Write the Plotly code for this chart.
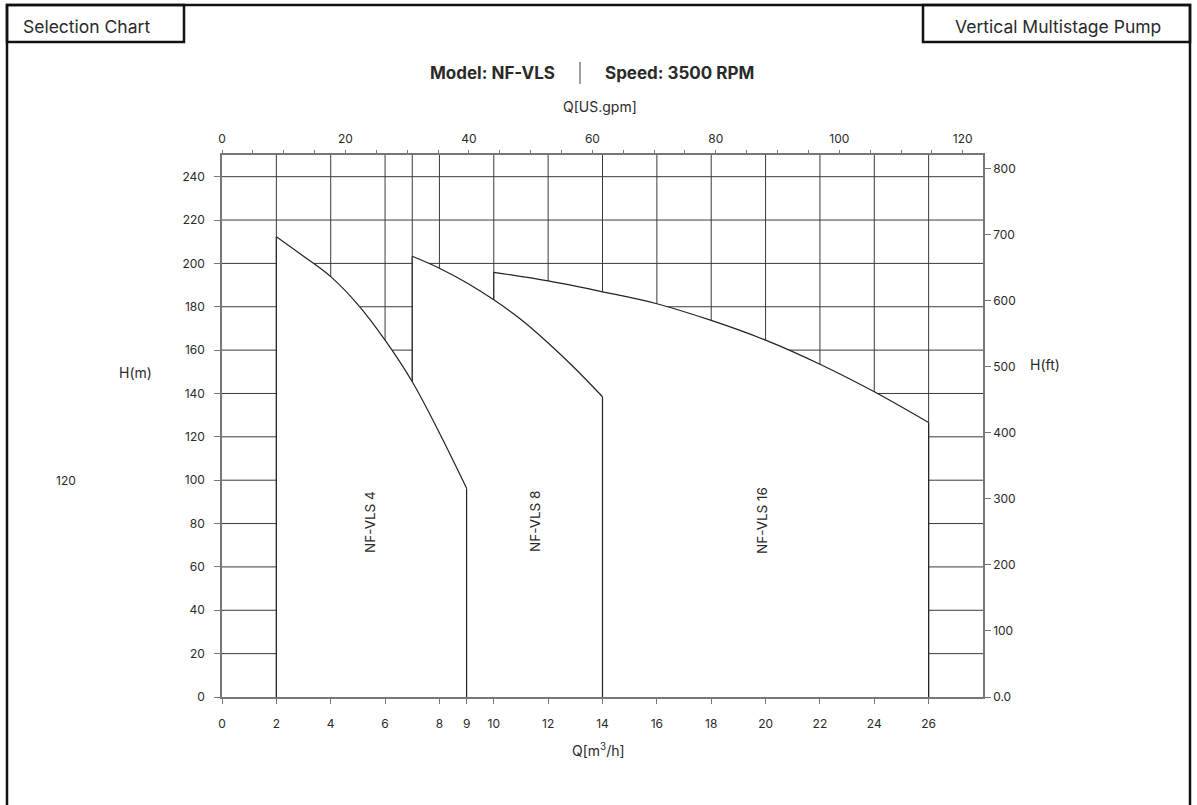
import plotly.graph_objects as go

# ---------------- data ----------------
Q_TICKS = [0, 2, 4, 6, 8, 9, 10, 12, 14, 16, 18, 20, 22, 24, 26]
H_TICKS = [0, 20, 40, 60, 80, 100, 120, 140, 160, 180, 200, 220, 240]
FT_TICKS = [0, 100, 200, 300, 400, 500, 600, 700, 800]
FT_LABELS = ["0.0", "100", "200", "300", "400", "500", "600", "700", "800"]
GPM_TICKS = [0, 20, 40, 60, 80, 100, 120]
GRID_Q = [2, 4, 6, 7, 8, 10, 12, 14, 16, 18, 20, 22, 24, 26]
GRID_H = [20, 40, 60, 80, 100, 120, 140, 160, 180, 200, 220, 240]

VLS4_Q = [2, 3, 4, 5, 6, 7, 8, 9]
VLS4_H = [212.3, 203.3, 193.9, 181.0, 164.6, 145.4, 121.8, 96.3]
VLS8_Q = [7, 8, 9, 10, 11, 12, 13, 14]
VLS8_H = [203.3, 197.8, 191.1, 183.2, 174.1, 163.3, 151.4, 138.5]
VLS16_Q = [10, 12, 14, 16, 18, 20, 22, 24, 26]
VLS16_H = [195.9, 191.9, 186.9, 181.4, 173.7, 164.6, 153.5, 140.8, 126.6]
MODELS = ["NF-VLS 16", "NF-VLS 8", "NF-VLS 4"]

Q_MAX = 28
H_MAX = 250
M3H_TO_GPM = 4.402868
M_TO_FT = 1 / 0.3048

FONT = "Inter"
TXT = "#2a2a2a"
AX = "#777777"
GRIDC = "#3a3a3a"
CURVE = "#222222"

# plot area in pixels
L, R, T, B = 222, 983, 155, 697
W, H = 1197, 805


def px(xpix):
    return (xpix - L) / (R - L)


def py(ypix):
    return (B - ypix) / (B - T)


fig = go.Figure()

# invisible trace so the secondary axes exist
fig.add_trace(go.Scatter(x=[0], y=[0], xaxis="x2", yaxis="y2", mode="markers",
                         marker=dict(opacity=0), showlegend=False, hoverinfo="skip"))

# grid
gx, gy = [], []
for q in GRID_Q:
    gx += [q, q, None]
    gy += [0, H_MAX, None]
for h in GRID_H:
    gx += [0, Q_MAX, None]
    gy += [h, h, None]
fig.add_trace(go.Scatter(x=gx, y=gy, mode="lines", line=dict(color=GRIDC, width=1),
                         showlegend=False, hoverinfo="skip"))

# pump regions (drawn 16, 8, 4 so that later ones cover earlier)
for name, qs, hs in [(MODELS[0], VLS16_Q, VLS16_H),
                     (MODELS[1], VLS8_Q, VLS8_H),
                     (MODELS[2], VLS4_Q, VLS4_H)]:
    fig.add_trace(go.Scatter(x=qs, y=hs, mode="lines", fill="tozeroy", fillcolor="white",
                             line=dict(color=CURVE, width=1.2, shape="spline", smoothing=1.0),
                             showlegend=False, name=name, hoverinfo="skip"))
    fig.add_trace(go.Scatter(x=[qs[0], qs[0], None, qs[-1], qs[-1]],
                             y=[0, hs[0], None, hs[-1], 0], mode="lines",
                             line=dict(color=CURVE, width=1.2),
                             showlegend=False, hoverinfo="skip"))

common = dict(showgrid=False, zeroline=False, showline=True, linecolor=AX, linewidth=1.5,
              ticks="outside", tickcolor=AX, tickwidth=1,
              tickfont=dict(family=FONT, size=12, color=TXT))

fig.update_layout(
    width=W, height=H,
    margin=dict(l=L, r=W - R, t=T, b=H - B, pad=0),
    paper_bgcolor="white", plot_bgcolor="white",
    font=dict(family=FONT, color=TXT),
    showlegend=False,
    xaxis=dict(range=[0, Q_MAX], tickmode="array", tickvals=Q_TICKS, ticklen=5,
               ticklabelstandoff=10, **common),
    yaxis=dict(range=[0, H_MAX], tickmode="array", tickvals=H_TICKS, ticklen=6,
               ticklabelstandoff=7, **common),
    xaxis2=dict(range=[0, Q_MAX * M3H_TO_GPM], overlaying="x", side="top", anchor="y",
                tickmode="array", tickvals=GPM_TICKS, ticklen=3, ticklabelstandoff=2,
                minor=dict(tickmode="linear", tick0=0, dtick=5, ticks="outside", ticklen=3,
                           tickcolor=AX, showgrid=False),
                **common),
    yaxis2=dict(range=[0, H_MAX * M_TO_FT], overlaying="y", side="right", anchor="x",
                tickmode="array", tickvals=FT_TICKS, ticktext=FT_LABELS, ticklen=6,
                ticklabelstandoff=0, **common),
)

# frame and header boxes
line_k = dict(color="#111111", width=2.5)
fig.add_shape(type="rect", xref="paper", yref="paper", x0=px(7), x1=px(1190), y0=py(830), y1=py(5),
              line=line_k, fillcolor="rgba(0,0,0,0)", layer="above")
fig.add_shape(type="rect", xref="paper", yref="paper", x0=px(7), x1=px(184), y0=py(42), y1=py(5),
              line=line_k, fillcolor="rgba(0,0,0,0)", layer="above")
fig.add_shape(type="rect", xref="paper", yref="paper", x0=px(923), x1=px(1190), y0=py(42), y1=py(5),
              line=line_k, fillcolor="rgba(0,0,0,0)", layer="above")
# title separator
fig.add_shape(type="line", xref="paper", yref="paper", x0=px(580), x1=px(580), y0=py(84), y1=py(62),
              line=dict(color="#444444", width=1))


def ann(text, xpix, ypix, size=13, xanchor="center", angle=0, bold=False):
    fig.add_annotation(text=f"<b>{text}</b>" if bold else text, xref="paper", yref="paper",
                       x=px(xpix), y=py(ypix), xanchor=xanchor, yanchor="middle",
                       showarrow=False, textangle=angle,
                       font=dict(family=FONT, size=size, color=TXT))


ann("Selection Chart", 86, 26, size=17.5)
ann("Vertical Multistage Pump", 1058, 26, size=17.5)
ann("Model: NF-VLS", 557, 73, size=17, xanchor="right", bold=True)
ann("Speed: 3500 RPM", 603, 73, size=17, xanchor="left", bold=True)
ann("Q[US.gpm]", 600, 106, size=14)
ann("Q[m<sup>3</sup>/h]", 598, 750, size=14)
ann("H(m)", 135, 372, size=14)
ann("H(ft)", 1045, 364, size=14)
ann("120", 66, 480, size=12)
ann(MODELS[2], 370, 522, size=13.5, angle=-90)
ann(MODELS[1], 535, 522, size=13.5, angle=-90)
ann(MODELS[0], 762, 521, size=13.5, angle=-90)

fig.write_html("out.html", config={"displayModeBar": False},
               post_script="document.body.style.margin='0px';")
